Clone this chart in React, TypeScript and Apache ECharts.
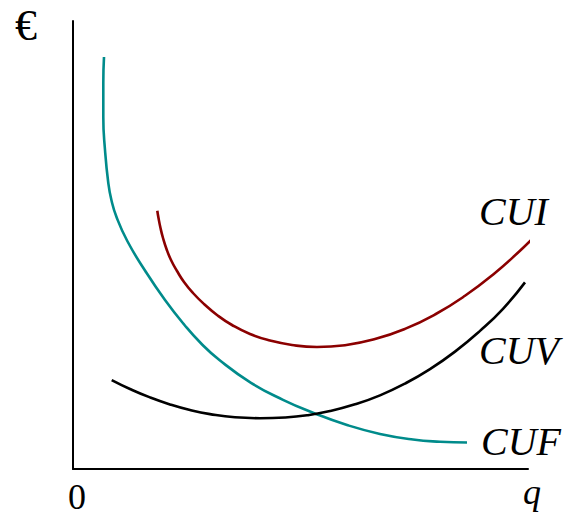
import React, { useEffect, useRef } from "react";
import * as echarts from "echarts";

// Quantity (x) and cost (y) in arbitrary chart units
const cufQ = [31, 30.3, 30.3, 32, 35.3, 38.4, 43.5, 54.3, 72.3, 92, 111.5, 127.7, 146.4, 178, 210, 240, 274, 307, 340, 367, 394];
const cufC = [412, 386, 352, 319, 286, 269, 252, 228, 198, 169, 144, 126, 109, 86.2, 69.2, 56.3, 44, 35.1, 29.5, 27.3, 26.5];

const cuiQ = [84.3, 85.5, 87.5, 90, 93.5, 98, 104, 111, 120, 131, 144, 159, 177, 197, 219, 244, 272, 302, 332, 362, 392, 422, 447, 462];
const cuiC = [258.3, 251, 241, 231, 220, 209, 198, 187, 176, 165, 154, 144, 135, 128.5, 124, 122, 123.8, 129.9, 140.1, 154.5, 173.2, 196, 218.3, 233];

const cuvQ = [38.7, 57, 77, 97, 117, 137, 162, 187, 212, 234, 257, 282, 307, 332, 357, 382, 407, 430, 452];
const cuvC = [88.9, 80, 71.6, 64.6, 59, 54.9, 51.7, 50.8, 51.55, 53.75, 57.9, 64.65, 73.65, 85.4, 99.9, 117.4, 138.15, 160.2, 186.6];

const seriesNames = ["CUF", "CUI", "CUV"];
const axisNames = { y: "€", x: "q", origin: "0" };

const pairs = (q: number[], c: number[]) => q.map((v, i) => [v, c[i]]);

export default function App() {
  const ref = useRef<HTMLDivElement>(null);
  useEffect(() => {
    if (!ref.current) return;
    const chart = echarts.init(ref.current, null, { renderer: "svg" });
    const font = '"Liberation Serif", "Times New Roman", serif';
    const txt = (text: string, x: number, y: number, italic: boolean, size: number, align = "left") => ({
      type: "text",
      style: {
        text,
        x,
        y,
        fontFamily: font,
        fontStyle: italic ? "italic" : "normal",
        fontSize: size,
        fill: "#000",
        align,
        verticalAlign: "top",
      },
    });
    const line = (name: string, q: number[], c: number[], color: string) => ({
      name,
      type: "line",
      data: pairs(q, c),
      smooth: 0.5,
      showSymbol: false,
      clip: false,
      lineStyle: { color, width: 2.6 },
    });
    chart.setOption({
      animation: false,
      backgroundColor: "#fff",
      grid: { left: 73, right: 37, top: 21, bottom: 51 },
      xAxis: {
        type: "value",
        min: 0,
        max: 455,
        axisLine: { show: true, lineStyle: { color: "#000", width: 2 } },
        axisTick: { show: false },
        axisLabel: { show: false },
        splitLine: { show: false },
      },
      yAxis: {
        type: "value",
        min: 0,
        max: 448,
        axisLine: { show: true, lineStyle: { color: "#000", width: 2 } },
        axisTick: { show: false },
        axisLabel: { show: false },
        splitLine: { show: false },
      },
      series: [
        line(seriesNames[0], cufQ, cufC, "#008B8B"),
        line(seriesNames[1], cuiQ, cuiC, "#8B0000"),
        line(seriesNames[2], cuvQ, cuvC, "#000000"),
      ],
      graphic: [
        txt(seriesNames[1], 479, 191, true, 40),
        txt(seriesNames[2], 479, 330, true, 40),
        txt(seriesNames[0], 481, 421, true, 40),
        txt(axisNames.y, 15, 3, false, 44),
        txt(axisNames.origin, 77, 479, false, 36, "center"),
        txt(axisNames.x, 532, 474, true, 36, "center"),
      ],
    });
    return () => chart.dispose();
  }, []);
  return <div ref={ref} style={{ position: "fixed", left: 0, top: 0, width: 565, height: 520 }} />;
}
